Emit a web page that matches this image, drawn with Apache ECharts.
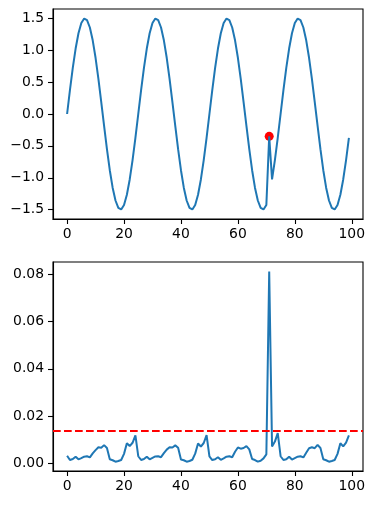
<!DOCTYPE html>
<html>
<head>
<meta charset="utf-8">
<script src="https://cdn.jsdelivr.net/npm/echarts@6/dist/echarts.min.js"></script>
<style>
    html, body { margin: 0; padding: 0; background: #ffffff; }
    #main { width: 375px; height: 505px; }
</style>
</head>
<body>
<div id="main"></div>
<script>
    // signal (top panel), one value per index 0..99
    var signal = [
        0, 0.373, 0.723, 1.027, 1.266, 1.427, 1.497, 1.473, 1.357, 1.156, 0.882, 0.552, 0.188,
        -0.188, -0.552, -0.882, -1.156, -1.357, -1.473, -1.497, -1.427, -1.266, -1.027, -0.723, -0.373,
        0, 0.373, 0.723, 1.027, 1.266, 1.427, 1.497, 1.473, 1.357, 1.156, 0.882, 0.552, 0.188,
        -0.188, -0.552, -0.882, -1.156, -1.357, -1.473, -1.497, -1.427, -1.266, -1.027, -0.723, -0.373,
        0, 0.373, 0.723, 1.027, 1.266, 1.427, 1.497, 1.473, 1.357, 1.156, 0.882, 0.552, 0.188,
        -0.188, -0.552, -0.882, -1.156, -1.357, -1.473, -1.497, -1.427, -0.35, -1.027, -0.723, -0.373,
        0, 0.373, 0.723, 1.027, 1.266, 1.427, 1.497, 1.473, 1.357, 1.156, 0.882, 0.552, 0.188,
        -0.188, -0.552, -0.882, -1.156, -1.357, -1.473, -1.497, -1.427, -1.266, -1.027, -0.723, -0.373
    ];
    // reconstruction error (bottom panel)
    var errors = [
        0.0032, 0.0014, 0.0018, 0.0028, 0.0017, 0.0022, 0.0028, 0.0030, 0.0025, 0.0042,
        0.0056, 0.0068, 0.0066, 0.0077, 0.0065, 0.0017, 0.0013, 0.0007, 0.0010, 0.0014,
        0.0040, 0.0085, 0.0073, 0.0087, 0.0118,
        0.0030, 0.0014, 0.0018, 0.0028, 0.0017, 0.0023, 0.0029, 0.0030, 0.0026, 0.0043,
        0.0058, 0.0068, 0.0067, 0.0076, 0.0066, 0.0016, 0.0013, 0.0007, 0.0010, 0.0015,
        0.0041, 0.0084, 0.0071, 0.0086, 0.0119,
        0.0029, 0.0014, 0.0017, 0.0026, 0.0015, 0.0021, 0.0028, 0.0030, 0.0026, 0.0049,
        0.0067, 0.0062, 0.0065, 0.0073, 0.0059, 0.0018, 0.0014, 0.0007, 0.0011, 0.0021,
        0.0038, 0.0812, 0.0071, 0.0092, 0.0128,
        0.0030, 0.0014, 0.0017, 0.0028, 0.0016, 0.0022, 0.0028, 0.0030, 0.0025, 0.0045,
        0.0064, 0.0068, 0.0064, 0.0078, 0.0065, 0.0017, 0.0013, 0.0007, 0.0010, 0.0014,
        0.0040, 0.0085, 0.0072, 0.0088, 0.0118
    ];
    var anomalyIndex = [71];
    var anomalyValue = [-0.35];
    var threshold = 0.0137;

    var xTicks = [0, 20, 40, 60, 80, 100];
    var topYTicks = [-1.5, -1.0, -0.5, 0.0, 0.5, 1.0, 1.5];
    var bottomYTicks = [0, 0.02, 0.04, 0.06, 0.08];

    var xMin = -4.95, xMax = 103.95;
    var blue = '#1f77b4';
    var font = 'DejaVu Sans';

    function minus(s) {
        return s.replace('-', '\u2212');
    }

    function xAxisOf(idx) {
        return {
            type: 'value',
            gridIndex: idx,
            min: xMin,
            max: xMax,
            splitLine: {show: false},
            axisLine: {show: true, onZero: false, lineStyle: {color: '#000', width: 1.1}},
            axisTick: {
                show: true,
                length: 5,
                customValues: xTicks,
                lineStyle: {color: '#000', width: 1.1}
            },
            axisLabel: {
                customValues: xTicks,
                margin: 8,
                color: '#000',
                fontSize: 13.9,
                fontFamily: font
            }
        }
    }

    function yAxisOf(idx, min, max, ticks, digits) {
        return {
            type: 'value',
            gridIndex: idx,
            min: min,
            max: max,
            splitLine: {show: false},
            axisLine: {show: true, onZero: false, lineStyle: {color: '#000', width: 1.1}},
            axisTick: {
                show: true,
                length: 5,
                customValues: ticks,
                lineStyle: {color: '#000', width: 1.1}
            },
            axisLabel: {
                customValues: ticks,
                margin: 9,
                color: '#000',
                fontSize: 13.9,
                fontFamily: font,
                formatter: function (v) {
                    return minus(v.toFixed(digits));
                }
            }
        }
    }

    var chart = echarts.init(document.getElementById('main'));
    var option = {
        backgroundColor: '#ffffff',
        animation: false,
        grid: [
            {left: 53, top: 9, width: 310, height: 210, show: true, borderColor: '#000', borderWidth: 1.1, backgroundColor: 'transparent'},
            {left: 53, top: 262, width: 310, height: 209, show: true, borderColor: '#000', borderWidth: 1.1, backgroundColor: 'transparent'}
        ],
        xAxis: [xAxisOf(0), xAxisOf(1)],
        yAxis: [
            yAxisOf(0, -1.647, 1.647, topYTicks, 1),
            yAxisOf(1, -0.00325, 0.0852, bottomYTicks, 2)
        ],
        series: [
            {
                type: 'line',
                xAxisIndex: 0,
                yAxisIndex: 0,
                showSymbol: false,
                data: signal.map(function (v, i) { return [i, v]; }),
                lineStyle: {color: blue, width: 2},
                itemStyle: {color: blue}
            },
            {
                type: 'scatter',
                xAxisIndex: 0,
                yAxisIndex: 0,
                symbolSize: 9,
                data: anomalyIndex.map(function (x, i) { return [x, anomalyValue[i]]; }),
                itemStyle: {color: '#ff0000', opacity: 1}
            },
            {
                type: 'line',
                xAxisIndex: 1,
                yAxisIndex: 1,
                showSymbol: false,
                data: errors.map(function (v, i) { return [i, v]; }),
                lineStyle: {color: blue, width: 2},
                itemStyle: {color: blue}
            },
            {
                // threshold, spans the full axis width like axhline
                type: 'line',
                xAxisIndex: 1,
                yAxisIndex: 1,
                showSymbol: false,
                data: [[xMin, threshold], [xMax, threshold]],
                lineStyle: {color: '#ff0000', width: 2, type: [7.7, 3.3]},
                itemStyle: {color: '#ff0000'}
            }
        ]
    };
    chart.setOption(option);
</script>
</body>
</html>
